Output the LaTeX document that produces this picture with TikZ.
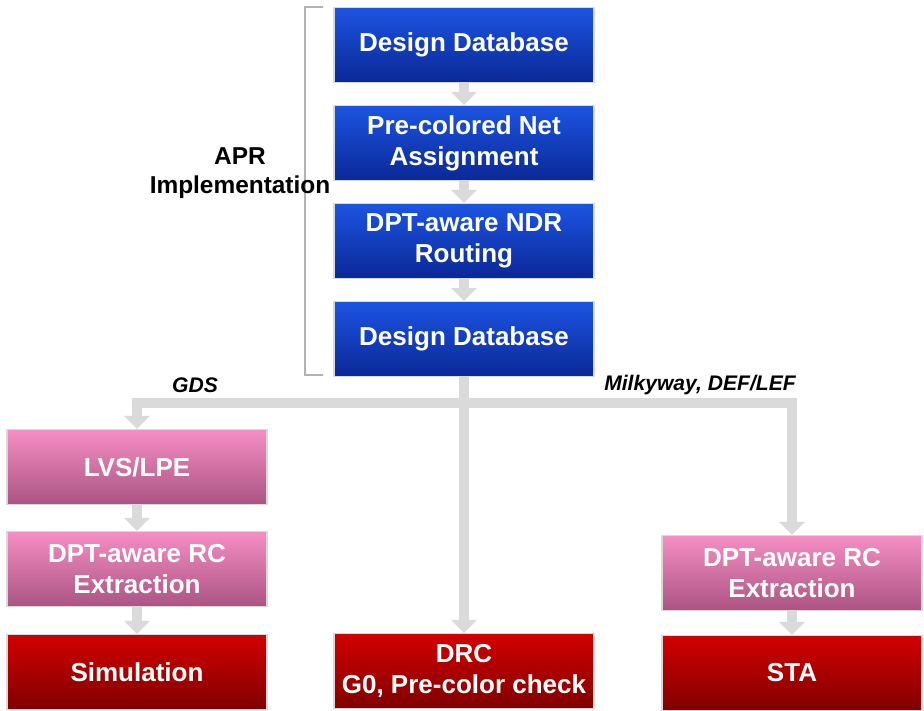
\documentclass[tikz,border=0pt]{standalone}
\usepackage{fontspec}
\setmainfont{Liberation Sans}
\definecolor{BlueTop}{RGB}{28,84,226}
\definecolor{BlueBot}{RGB}{10,40,150}
\definecolor{PinkTop}{RGB}{246,142,196}
\definecolor{PinkBot}{RGB}{170,84,130}
\definecolor{RedTop}{RGB}{210,0,0}
\definecolor{RedBot}{RGB}{128,0,0}
\definecolor{FlowGray}{RGB}{218,218,218}
\usetikzlibrary{positioning, arrows.meta, shadings}

\tikzset{
  box/.style={rectangle, minimum width=5.2cm, minimum height=1.5cm, align=center,
    text=white, font=\fontsize{14.8}{17.5}\selectfont\bfseries, draw=black!15, line width=0.6pt},
  bluebox/.style={box, top color=BlueTop, bottom color=BlueBot},
  pinkbox/.style={box, top color=PinkTop, bottom color=PinkBot},
  redbox/.style={box, top color=RedTop, bottom color=RedBot},
  flow/.style={draw=FlowGray, line width=5.5pt, -{Triangle[length=0.26cm, width=0.5cm]}},
  tag/.style={font=\fontsize{12}{14}\selectfont\bfseries\itshape}
}

\begin{document}
\begin{tikzpicture}
  \useasboundingbox (0,0) rectangle (18.48,-14.2);

  % APR flow
  \node[bluebox] (db1) at (9.28,-0.9) {Design Database};
  \node[bluebox] (pcn) at (9.28,-2.86) {Pre-colored Net\\Assignment};
  \node[bluebox] (ndr) at (9.28,-4.82) {DPT-aware NDR\\Routing};
  \node[bluebox] (db2) at (9.28,-6.78) {Design Database};

  % checks
  \node[pinkbox] (lvs) at (2.74,-9.34) {LVS/LPE};
  \node[pinkbox] (rcl) at (2.74,-11.38) {DPT-aware RC\\Extraction};
  \node[redbox] (sim) at (2.74,-13.44) {Simulation};
  \node[redbox] (drc) at (9.28,-13.42) {DRC\\G0, Pre-color check};
  \node[pinkbox] (rcr) at (15.84,-11.46) {DPT-aware RC\\Extraction};
  \node[redbox] (sta) at (15.84,-13.46) {STA};

  % bracket
  \coordinate (brt) at (6.46,-0.14);
  \coordinate (brb) at (6.46,-7.5);
  \draw[black!30, line width=1.2pt] (brt) -- ++(-0.36,0) |- (brb);
  \node[font=\fontsize{13.9}{16.5}\selectfont\bfseries, align=center] (apr) at (4.8,-3.46) {APR\\Implementation};

  \draw[flow] (db1) -- (pcn);
  \draw[flow] (pcn) -- (ndr);
  \draw[flow] (ndr) -- (db2);

  \coordinate (fork) at (9.28,-8.06);
  \draw[flow] (db2) -- (drc);
  \draw[flow] (fork) -| (lvs.north);
  \draw[flow] (fork) -| (rcr.north);
  \draw[flow] (lvs) -- (rcl);
  \draw[flow] (rcl) -- (sim);
  \draw[flow] (rcr) -- (sta);

  \node[tag] (gds) at (3.9,-7.7) {GDS};
  \node[tag] (mw) at (14.0,-7.7) {Milkyway, DEF/LEF};
\end{tikzpicture}
\end{document}
